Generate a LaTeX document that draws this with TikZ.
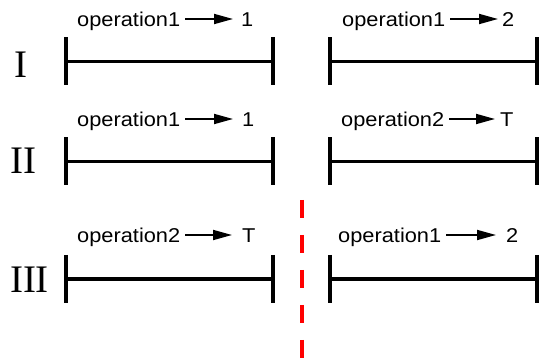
\documentclass[tikz,border=0pt]{standalone}
\usepackage{fontspec}
\setmainfont{Liberation Serif}
\newfontfamily\labfont[FakeStretch=1.09]{Liberation Sans}
\usetikzlibrary{arrows.meta}
\begin{document}
\begin{tikzpicture}[x=1pt,y=-1pt,
  seg/.style={line width=3.5pt},
  endbar/.style={line width=4pt},
  lab/.style={font=\labfont\fontsize{20}{24}\selectfont, inner sep=0pt, anchor=base west},
  roman/.style={font=\fontsize{39}{44}\selectfont, inner sep=0pt, anchor=center},
  arr/.style={line width=1.8pt, -{Triangle[length=19pt,width=10pt]}},
  sep/.style={red, line width=4pt, dash pattern=on 18pt off 17pt}]
\useasboundingbox (0,0) rectangle (539,358);

% roman numerals
\node[roman] (r1) at (20.5,65) {I};
\node[roman] (r2) at (23.5,160.5) {II};
\node[roman] (r3) at (29.5,279.5) {III};

% segment ends
\coordinate (a1) at (66,61.5);   \coordinate (b1) at (273,61.5);
\coordinate (c1) at (330,61.5);  \coordinate (d1) at (537,61.5);
\coordinate (a2) at (66,161.5);  \coordinate (b2) at (273,161.5);
\coordinate (c2) at (330,161.5); \coordinate (d2) at (537,161.5);
\coordinate (a3) at (66,279);    \coordinate (b3) at (273,279);
\coordinate (c3) at (330,279);   \coordinate (d3) at (537,279);

\foreach \p/\q in {a1/b1,c1/d1,a2/b2,c2/d2,a3/b3,c3/d3}{
  \draw[seg] (\p) -- (\q);
  \draw[endbar] ([yshift=24pt]\p) -- ([yshift=-24pt]\p);
  \draw[endbar] ([yshift=24pt]\q) -- ([yshift=-24pt]\q);
}

% labels
\node[lab] (o1) at (77,27) {operation1};  \node[lab] (v1) at (241,27) {1};
\node[lab] (o2) at (342,27) {operation1}; \node[lab] (v2) at (502,27) {2};
\node[lab] (o3) at (77,127) {operation1}; \node[lab] (v3) at (242,127) {1};
\node[lab] (o4) at (341,127) {operation2}; \node[lab] (v4) at (500,127) {T};
\node[lab] (o5) at (77,243) {operation2}; \node[lab] (v5) at (242,243) {T};
\node[lab] (o6) at (338,243) {operation1}; \node[lab] (v6) at (506,243) {2};

\draw[arr] ([shift={(5pt,8pt)}]o1.base east) -- ([shift={(-8pt,8pt)}]v1.base west);
\draw[arr] ([shift={(5pt,8pt)}]o2.base east) -- ([shift={(-4pt,8pt)}]v2.base west);
\draw[arr] ([shift={(5pt,8pt)}]o3.base east) -- ([shift={(-9pt,8pt)}]v3.base west);
\draw[arr] ([shift={(5pt,8pt)}]o4.base east) -- ([shift={(-5pt,8pt)}]v4.base west);
\draw[arr] ([shift={(5pt,8pt)}]o5.base east) -- ([shift={(-10pt,8pt)}]v5.base west);
\draw[arr] ([shift={(5pt,8pt)}]o6.base east) -- ([shift={(-10pt,8pt)}]v6.base west);

% separator
\coordinate (s1) at (302,200);
\coordinate (s2) at (302,358);
\draw[sep] (s1) -- (s2);
\end{tikzpicture}
\end{document}
